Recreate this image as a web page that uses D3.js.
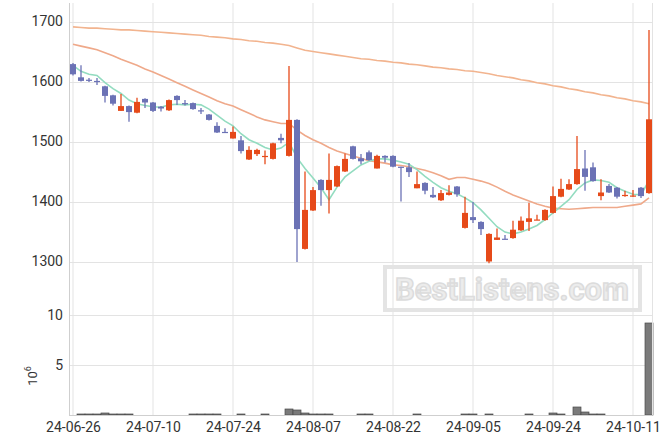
<!DOCTYPE html>
<html><head><meta charset="utf-8">
<script src="https://cdn.jsdelivr.net/npm/d3@7"></script>
<style>body{margin:0;background:#fff;} svg{display:block;}</style>
</head><body><svg id="c" width="670" height="444"></svg>
<script>
const dates = ["24-06-26","24-06-27","24-06-28","24-07-01","24-07-02","24-07-03","24-07-04","24-07-05","24-07-08","24-07-09",
"24-07-10","24-07-11","24-07-12","24-07-15","24-07-16","24-07-17","24-07-18","24-07-19","24-07-22","24-07-23",
"24-07-24","24-07-25","24-07-26","24-07-29","24-07-30","24-07-31","24-08-01","24-08-02","24-08-05","24-08-06",
"24-08-07","24-08-08","24-08-09","24-08-12","24-08-13","24-08-14","24-08-16","24-08-19","24-08-20","24-08-21",
"24-08-22","24-08-23","24-08-26","24-08-27","24-08-28","24-08-29","24-08-30","24-09-02","24-09-03","24-09-04",
"24-09-05","24-09-06","24-09-09","24-09-10","24-09-11","24-09-12","24-09-13","24-09-19","24-09-20","24-09-23",
"24-09-24","24-09-25","24-09-26","24-09-27","24-09-30","24-10-02","24-10-04","24-10-07","24-10-08","24-10-10",
"24-10-11","24-10-14","24-10-15"];
const open  = [1629,1607,1603,1601,1592,1577,1551,1559,1548,1571,1565,1558,1552,1576,1564,1564,1552,1545,1526,1516,
1505,1502,1470,1479,1475,1471,1506,1476,1536,1321,1385,1436,1419,1425,1450,1492,1472,1482,1455,1476,
1476,1458,1457,1422,1431,1411,1402,1411,1425,1356,1374,1366,1300,1336,1338,1339,1352,1366,1369,1369,
1381,1408,1420,1429,1455,1457,1409,1426,1423,1409,1409,1423,1414];
const high  = [1631,1627,1606,1606,1593,1578,1579,1560,1573,1572,1566,1559,1570,1577,1569,1565,1556,1546,1532,1522,
1525,1509,1492,1488,1485,1498,1513,1626,1537,1450,1424,1437,1480,1460,1480,1493,1479,1485,1478,1477,
1477,1458,1464,1450,1432,1424,1419,1427,1426,1408,1399,1367,1347,1355,1344,1368,1375,1398,1378,1387,
1425,1438,1437,1509,1486,1465,1437,1429,1424,1418,1419,1424,1686];
const low   = [1610,1600,1599,1594,1565,1560,1551,1533,1547,1556,1549,1550,1551,1561,1560,1553,1546,1535,1514,1515,
1505,1480,1469,1476,1462,1470,1497,1475,1299,1320,1384,1393,1380,1424,1449,1470,1462,1468,1455,1465,
1457,1400,1441,1422,1412,1406,1401,1410,1408,1355,1364,1344,1297,1336,1337,1338,1351,1351,1369,1368,
1380,1407,1419,1428,1418,1433,1402,1414,1405,1408,1408,1406,1413];
const close = [1612,1601,1602,1599,1576,1563,1559,1549,1566,1565,1551,1555,1569,1569,1563,1554,1550,1536,1515,1515,
1516,1484,1486,1486,1476,1497,1502,1536,1354,1386,1419,1419,1436,1459,1471,1471,1467,1469,1476,1473,
1458,1456,1449,1429,1418,1407,1414,1415,1412,1381,1369,1354,1346,1340,1337,1353,1368,1372,1370,1386,
1409,1421,1429,1454,1441,1434,1415,1415,1408,1411,1410,1409,1537];
const ma5 = [1627,1617,1612,1610,1598,1588,1580,1569,1563,1560,1558,1557,1561,1562,1561,1562,1561,1554,1544,1534,
1526,1513,1503,1497,1490,1486,1489,1499,1473,1455,1439,1423,1403,1424,1441,1451,1461,1467,1471,1471,
1469,1466,1462,1453,1442,1432,1423,1417,1413,1406,1398,1386,1372,1358,1349,1346,1349,1354,1360,1370,
1381,1392,1403,1420,1431,1436,1435,1432,1423,1417,1412,1411,1435];
const ma20 = [1662,1659,1656,1653,1648,1643,1637,1632,1627,1621,1616,1610,1604,1598,1592,1586,1580,1574,1568,1563,
1559,1553,1547,1541,1536,1533,1530,1530,1519,1510,1503,1497,1490,1484,1480,1476,1472,1468,1466,1464,
1461,1460,1458,1455,1452,1448,1443,1437,1440,1440,1437,1434,1430,1424,1417,1411,1406,1401,1396,1392,
1389,1388,1387,1388,1389,1390,1390,1390,1390,1392,1394,1396,1406];
const maLong = [1691,1690,1689,1689,1688,1687,1686,1686,1685,1684,1683,1682,1681,1680,1679,1678,1677,1675,1674,1673,
1671,1670,1668,1667,1665,1664,1662,1660,1656,1652,1650,1648,1646,1644,1642,1640,1638,1637,1635,1634,
1632,1631,1629,1628,1626,1624,1623,1621,1620,1618,1617,1615,1613,1610,1608,1606,1603,1601,1598,1596,
1593,1591,1588,1586,1583,1581,1578,1576,1573,1571,1568,1566,1563];
const volume = [0.03,0.1,0.1,0.1,0.2,0.1,0.1,0.1,0.03,0.03,0.03,0.03,0.03,0.03,0.03,0.1,0.1,0.1,0.1,0.03,
0.03,0.1,0.03,0.03,0.1,0.03,0.03,0.6,0.47,0.2,0.1,0.1,0.1,0.03,0.03,0.03,0.1,0.1,0.03,0.03,
0.03,0.03,0.03,0.1,0.03,0.03,0.03,0.03,0.03,0.1,0.1,0.03,0.1,0.03,0.03,0.03,0.03,0.1,0.03,0.03,
0.2,0.1,0.03,0.77,0.3,0.1,0.1,0.03,0.03,0.03,0.03,0.03,9.2];
const priceTicks = [1300,1400,1500,1600,1700];
const volTicks = [5,10];
const xTickDates = ["24-06-26","24-07-10","24-07-24","24-08-07","24-08-22","24-09-05","24-09-24","24-10-11"];

const UP = "#e64a19", DOWN = "#6b72b5", GRID = "#e3e3e3";
const L = 69, R = 652, T = 3, B = 415;
const svg = d3.select("#c");
const font = "Roboto, 'Noto Sans', sans-serif";

const x = d3.scalePoint().domain(dates).range([73, 649]);
const y = d3.scaleLinear().domain([1300, 1700]).range([261.5, 21.5]);
const yv = d3.scaleLinear().domain([0, 10]).range([B, 315]);

// grid
const g = svg.append("g");
g.selectAll(".vg").data(xTickDates).join("line")
  .attr("x1", d => x(d)).attr("x2", d => x(d)).attr("y1", T).attr("y2", B)
  .attr("stroke", GRID).attr("stroke-width", 1);
g.selectAll(".hg").data(priceTicks).join("line")
  .attr("x1", L).attr("x2", R).attr("y1", d => Math.round(y(d)) + 0.5).attr("y2", d => Math.round(y(d)) + 0.5)
  .attr("stroke", GRID);
g.selectAll(".hv").data(volTicks).join("line")
  .attr("x1", L).attr("x2", R).attr("y1", d => Math.round(yv(d)) + 0.5).attr("y2", d => Math.round(yv(d)) + 0.5)
  .attr("stroke", GRID);

// watermark
const wm = svg.append("g");
wm.append("rect").attr("x", 385).attr("y", 267).attr("width", 255).attr("height", 43)
  .attr("fill", "none").attr("stroke", "#e4e4e4").attr("stroke-width", 4);
wm.append("text").attr("x", 512).attr("y", 300).attr("text-anchor", "middle")
  .attr("font-family", font).attr("font-weight", "bold").attr("font-size", 31)
  .attr("fill", "#ececec").attr("stroke", "#dcdcdc").attr("stroke-width", 1.5)
  .text("BestListens.com");

// moving averages
const idx = d3.range(dates.length);
const line = arr => d3.line().x(i => x(dates[i])).y(i => y(arr[i]))(idx);
svg.append("path").attr("d", line(maLong)).attr("fill", "none").attr("stroke", "#f2b48f").attr("stroke-width", 1.6);
svg.append("path").attr("d", line(ma20)).attr("fill", "none").attr("stroke", "#efa98a").attr("stroke-width", 1.6);
svg.append("path").attr("d", line(ma5)).attr("fill", "none").attr("stroke", "#93dcc0").attr("stroke-width", 1.6);

// candles
const bw = 6;
const c = svg.append("g").selectAll("g").data(idx).join("g");
c.append("line")
  .attr("x1", i => x(dates[i])).attr("x2", i => x(dates[i]))
  .attr("y1", i => y(high[i])).attr("y2", i => y(low[i]))
  .attr("stroke", i => close[i] >= open[i] ? UP : DOWN).attr("stroke-width", 1.3);
c.append("rect")
  .attr("x", i => x(dates[i]) - bw / 2)
  .attr("y", i => y(Math.max(open[i], close[i])))
  .attr("width", bw)
  .attr("height", i => Math.max(1.2, Math.abs(y(open[i]) - y(close[i]))))
  .attr("fill", i => close[i] >= open[i] ? UP : DOWN);

// volume bars
svg.append("g").selectAll("rect").data(idx).join("rect")
  .attr("x", i => x(dates[i]) - 4)
  .attr("width", 8)
  .attr("y", i => B - Math.round(B - yv(volume[i])))
  .attr("height", i => Math.round(B - yv(volume[i])))
  .attr("fill", "#7a7a7a").attr("stroke", "#4a4a4a").attr("stroke-width", 0.7);

// axes
const ax = svg.append("g").attr("font-family", font);
ax.append("line").attr("x1", L + 0.5).attr("x2", L + 0.5).attr("y1", T).attr("y2", B).attr("stroke", "#cfcfcf");
ax.append("line").attr("x1", R + 0.5).attr("x2", R + 0.5).attr("y1", T).attr("y2", B).attr("stroke", "#e3e3e3");
ax.append("line").attr("x1", L).attr("x2", R).attr("y1", B + 0.5).attr("y2", B + 0.5).attr("stroke", "#cfcfcf");

const yAxis = d3.axisLeft(y).tickValues(priceTicks).tickFormat(d3.format("d")).tickSize(0).tickPadding(6);
svg.append("g").attr("transform", `translate(${L},0)`).call(yAxis)
  .call(s => s.select(".domain").remove())
  .selectAll("text").attr("font-family", font).attr("font-size", 14).attr("fill", "#333");
const vAxis = d3.axisLeft(yv).tickValues(volTicks).tickFormat(d3.format("d")).tickSize(0).tickPadding(6);
svg.append("g").attr("transform", `translate(${L},0)`).call(vAxis)
  .call(s => s.select(".domain").remove())
  .selectAll("text").attr("font-family", font).attr("font-size", 14).attr("fill", "#333");
const xAxis = d3.axisBottom(x).tickValues(xTickDates).tickSize(0).tickPadding(7);
svg.append("g").attr("transform", `translate(0,${B})`).call(xAxis)
  .call(s => s.select(".domain").remove())
  .selectAll("text").attr("font-family", font).attr("font-size", 14).attr("fill", "#333");

// volume unit label 10^6
const ul = svg.append("text").attr("transform", "translate(37,376) rotate(-90)")
  .attr("font-family", font).attr("font-size", 13).attr("fill", "#333").attr("text-anchor", "middle");
ul.append("tspan").text("10");
ul.append("tspan").attr("font-size", 9).attr("dy", -6).text("6");
</script></body></html>
